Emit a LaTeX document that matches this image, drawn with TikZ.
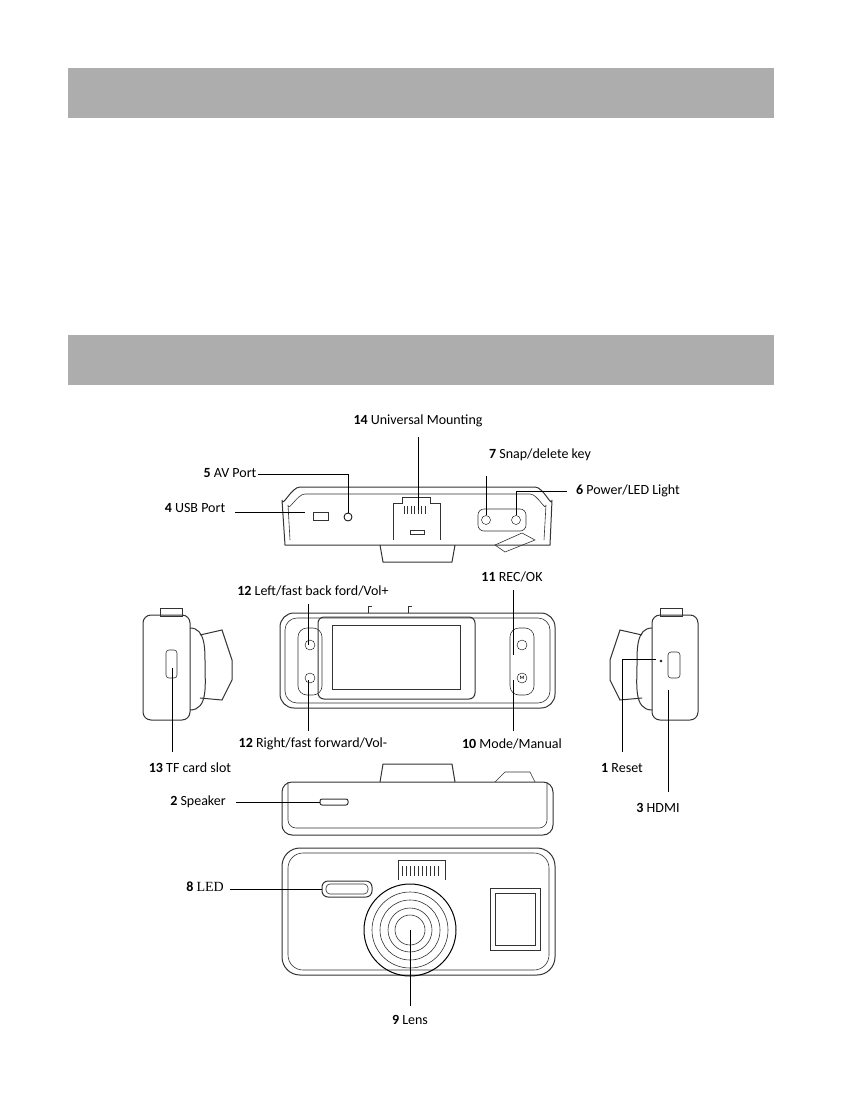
\documentclass[tikz,border=0pt]{standalone}
\usepackage{fontspec}
\setmainfont{Carlito}
\newfontfamily\serifx{Liberation Serif}
\begin{document}
\begin{tikzpicture}[x=1pt,y=-1pt,
  lbl/.style={font=\fontsize{14}{16}\selectfont,inner sep=0pt},
  cam/.style={draw=black!80,line width=1pt},
  thin/.style={draw=black!80,line width=0.6pt},
  lead/.style={draw=black,line width=1pt}]
\useasboundingbox (0,0) rectangle (842,1097);
\fill[white] (0,0) rectangle (842,1097);
\fill[black!32] (68,68) rectangle (774,118);
\fill[black!32] (68,335) rectangle (774,385);
% ---- top view
\draw[cam] (285,545) -- (282,500) to[out=-90,in=180] (300,487) -- (535,487) to[out=0,in=-90] (552,500) -- (550,545) -- cycle;
\draw[thin] (290,540) -- (288,505) to[out=-90,in=180] (305,494) -- (530,494) to[out=0,in=-90] (546,505) -- (544,540);
\draw[cam] (380,545) -- (383,562) -- (452,562) -- (455,545);
\draw[cam,fill=white] (393,540) -- (393,503) -- (402,503) -- (402,497) -- (430,497) -- (430,503) -- (440,503) -- (440,540);
\foreach \i in {0,...,6} \draw[thin] (404+3.5*\i,506) -- (404+3.5*\i,514);
\draw[thin] (410,530) rectangle (424,534);
\draw[thin] (313,512) rectangle (328,520);
\node[draw,circle,minimum size=8pt,inner sep=0pt,line width=0.8pt] (av) at (348,517) {};
\draw[thin,rounded corners=6pt] (478,509) rectangle (526,531);
\node[draw,circle,minimum size=9pt,inner sep=0pt] (b7) at (486,520) {};
\node[draw,circle,minimum size=9pt,inner sep=0pt] (b6) at (516,520) {};
\draw[thin] (495,545) -- (522,533) -- (535,540) -- (505,552) -- cycle;
% labels top
\node[lbl] (l14) at (418,421) {\textbf{14} Universal Mounting};
\draw[lead] (418,437) -- (418,510);
\node[lbl] (l5) at (230,473) {\textbf{5} AV Port};
\draw[lead] (258,474) -| (av.north);
\node[lbl] (l4) at (195,508) {\textbf{4} USB Port};
\draw[lead] (235,512) -- (305,512);
\node[lbl] (l7) at (540,455) {\textbf{7} Snap/delete key};
\draw[lead] (486,476) -- (b7.north);
\node[lbl] (l6) at (628,491) {\textbf{6} Power/LED Light};
\draw[lead] (567,491) -| (b6.north);
% ---- front view
\draw[cam,rounded corners=14pt] (280,613) rectangle (555,708);
\draw[thin,rounded corners=12pt] (285,618) rectangle (550,703);
\draw[thin] (368,613) -- (368,606) -- (372,606);
\draw[thin] (408,613) -- (408,606) -- (412,606);
\draw[cam,rounded corners=6pt] (318,617) rectangle (475,699);
\draw[thin] (332,625) rectangle (460,689);
\draw[thin,rounded corners=9pt] (298,628) rectangle (322,695);
\node[draw,circle,minimum size=10pt,inner sep=0pt] (bl) at (310,645) {};
\node[draw,circle,minimum size=10pt,inner sep=0pt] (br) at (310,678) {};
\draw[thin,rounded corners=9pt] (510,628) rectangle (534,695);
\node[draw,circle,minimum size=10pt,inner sep=0pt] (bo) at (522,645) {};
\node[draw,circle,minimum size=10pt,inner sep=0pt,font=\tiny\bfseries] (bm) at (522,678) {M};
\node[lbl] (l12a) at (313,591) {\textbf{12} Left/fast back ford/Vol+};
\draw[lead] (308,604) -- (308,645);
\node[lbl] (l11) at (512,577) {\textbf{11} REC/OK};
\draw[lead] (513,590) -- (513,655);
\node[lbl] (l12b) at (313,744) {\textbf{12} Right/fast forward/Vol-};
\draw[lead] (308,680) -- (308,731);
\node[lbl] (l10) at (512,744) {\textbf{10} Mode/Manual};
\draw[lead] (513,680) -- (513,731);
% ---- left side view
\draw[cam,rounded corners=8pt] (143,615) rectangle (190,720);
\draw[cam] (190,628) to[out=0,in=90] (205,665) to[out=-90,in=0] (190,710);
\draw[cam] (200,635) -- (222,630) -- (232,660) -- (232,680) -- (222,700) -- (200,698);
\draw[thin] (160,608) rectangle (182,616);
\draw[thin,rounded corners=3pt] (166,650) rectangle (177,678);
\node[lbl] (l13) at (190,768) {\textbf{13} TF card slot};
\draw[lead] (172,668) -- (172,752);
% ---- right side view
\draw[cam,rounded corners=8pt] (652,615) rectangle (698,720);
\draw[cam] (652,628) to[out=180,in=90] (637,665) to[out=-90,in=180] (652,710);
\draw[cam] (642,635) -- (620,630) -- (610,660) -- (610,680) -- (620,700) -- (642,698);
\draw[thin] (660,608) rectangle (682,616);
\draw[thin,rounded corners=3pt] (668,652) rectangle (680,678);
\node[draw,circle,minimum size=2pt,inner sep=0pt] (rst) at (661,661) {};
\node[lbl] (l1) at (622,768) {\textbf{1} Reset};
\draw[lead] (622,752) -- (622,659) -- (656,659);
\node[lbl] (l3) at (658,808) {\textbf{3} HDMI};
\draw[lead] (668,792) -- (668,690);
% ---- bottom view
\draw[cam] (380,782) -- (383,764) -- (452,764) -- (455,782);
\draw[cam,rounded corners=10pt] (282,782) -- (282,835) -- (553,835) -- (553,782) -- cycle;
\draw[thin,rounded corners=8pt] (288,782) -- (288,828) -- (547,828) -- (547,782);
\draw[thin] (495,782) -- (505,772) -- (530,772) -- (535,782);
\draw[cam,rounded corners=2pt] (320,799) rectangle (348,805);
\node[lbl] (l2) at (198,802) {\textbf{2} Speaker};
\draw[lead] (236,802) -- (320,802);
% ---- back view
\draw[cam,rounded corners=18pt] (282,848) rectangle (555,975);
\draw[thin,rounded corners=15pt] (288,853) rectangle (549,970);
\draw[cam,fill=white] (398,880) -- (398,860) -- (445,860) -- (445,880);
\foreach \i in {0,...,9} \draw[thin] (402+4*\i,866) -- (402+4*\i,876);
\draw[cam,rounded corners=6pt] (322,881) rectangle (372,897);
\draw[thin,rounded corners=4pt] (326,884) rectangle (368,894);
\draw[cam] (490,888) rectangle (540,950);
\draw[thin] (495,893) rectangle (535,945);
\node[draw,circle,minimum size=92pt,inner sep=0pt,line width=1pt] (lens) at (410,930) {};
\foreach \r in {38,30,22,15} \draw[thin] (410,930) circle (\r);
\node[lbl] (l8) at (205,887) {\textbf{8} {\serifx LED}};
\draw[lead] (230,889) -- (322,889);
\node[lbl] (l9) at (410,1020) {\textbf{9} Lens};
\draw[lead] (410,930) -- (410,1006);
\end{tikzpicture}
\end{document}
